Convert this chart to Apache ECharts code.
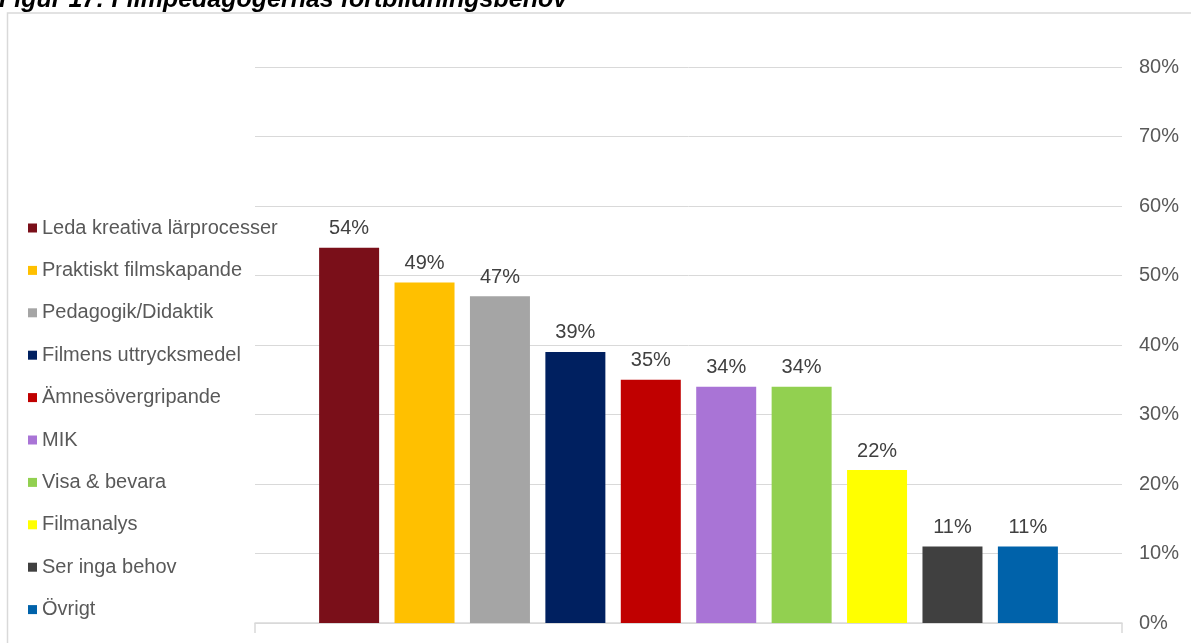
<!DOCTYPE html>
<html><head><meta charset="utf-8">
<script src="https://cdn.jsdelivr.net/npm/echarts@6/dist/echarts.min.js"></script>
<style>html,body{margin:0;padding:0;background:#fff}#c{width:1191px;height:643px}</style>
</head><body><div id="c"></div>
<script>
const seriesNames = ["Leda kreativa lärprocesser","Praktiskt filmskapande","Pedagogik/Didaktik","Filmens uttrycksmedel","Ämnesövergripande","MIK","Visa & bevara","Filmanalys","Ser inga behov","Övrigt"];
const seriesValues = [0.54,0.49,0.47,0.39,0.35,0.34,0.34,0.22,0.11,0.11];
const seriesColors = ["#7A0F19","#FFC000","#A5A5A5","#002060","#C00000","#A974D6","#92D050","#FFFF00","#404040","#0062AA"];
const yTicks = [0,0.1,0.2,0.3,0.4,0.5,0.6,0.7,0.8];
const titleText = "Figur 17: Filmpedagogernas fortbildningsbehov";
const font = "'Liberation Sans', Arial, sans-serif";
const chart = echarts.init(document.getElementById('c'));
const pct = v => Math.round(v*100) + '%';
chart.setOption({
  animation:false,
  textStyle:{fontFamily:font},
  title:{text:titleText,left:-1,top:-12,padding:0,textStyle:{fontFamily:font,fontSize:25,fontWeight:'bold',fontStyle:'italic',color:'#000'}},
  graphic:[{type:'rect',shape:{x:7.5,y:13,width:1200,height:700},style:{fill:'none',stroke:'#d9d9d9',lineWidth:1.5},silent:true,z:-1}],
  legend:{orient:'vertical',left:23,top:212,itemWidth:9,itemHeight:9,itemGap:20.4,icon:'rect',
    textStyle:{fontSize:20,color:'#595959',lineHeight:22,fontFamily:font},data:seriesNames},
  grid:{left:255,right:69,top:67,bottom:20},
  xAxis:{type:'category',data:[''],axisLine:{lineStyle:{color:'#d9d9d9',width:1.5}},
    axisTick:{show:true,length:10,lineStyle:{color:'#d9d9d9',width:1.5}},axisLabel:{show:false}},
  yAxis:{type:'value',position:'right',min:yTicks[0],max:yTicks[yTicks.length-1],interval:0.1,
    axisLine:{show:false},axisTick:{show:false},
    splitLine:{lineStyle:{color:'#d9d9d9',width:1}},
    axisLabel:{formatter:pct,fontSize:20,color:'#595959',margin:17,fontFamily:font}},
  series:seriesNames.map((n,i)=>({name:n,type:'bar',data:[seriesValues[i]],barWidth:60,barGap:'25.7%',
    itemStyle:{color:seriesColors[i]},
    label:{show:true,position:'top',distance:9,formatter:p=>pct(p.value),fontSize:20,color:'#404040',fontFamily:font}}))
});
</script></body></html>
